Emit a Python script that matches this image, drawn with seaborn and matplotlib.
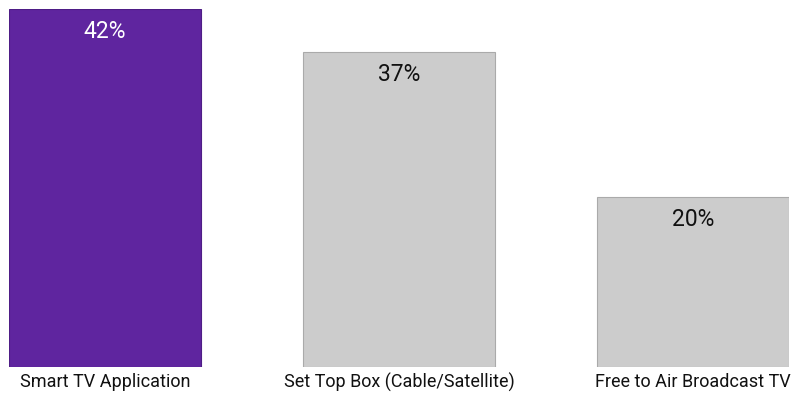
import matplotlib
matplotlib.use("Agg")
import matplotlib.pyplot as plt
import seaborn as sns
import pandas as pd

# Share of viewing by platform
categories = ["Smart TV Application", "Set Top Box (Cable/Satellite)", "Free to Air Broadcast TV"]
shares = [42, 37, 20]
bar_colors = ["#5f259f", "#cccccc", "#cccccc"]
edge_colors = ["#4e1d86", "#aaaaaa", "#aaaaaa"]
label_colors = ["white", "#111111", "#111111"]

df = pd.DataFrame({"platform": categories, "share": shares})

sns.set_theme(style="white")
plt.rcParams["font.family"] = ["Roboto", "DejaVu Sans"]

fig = plt.figure(figsize=(7.96, 3.93), dpi=100)
ax = fig.add_axes([9 / 796, 26 / 393, 780 / 796, 358 / 393])

sns.barplot(data=df, x="platform", y="share", hue="platform", palette=bar_colors,
            legend=False, width=0.652, ax=ax, saturation=1)

for patch, ec in zip(ax.patches, edge_colors):
    patch.set_edgecolor(ec)
    patch.set_linewidth(0.8)

for i, (v, c) in enumerate(zip(shares, label_colors)):
    ax.annotate(f"{v}%", xy=(i, v), xytext=(0, -16.5), textcoords="offset points",
                ha="center", va="center", fontsize=16.5, color=c)

ax.set_xlim(-0.326, 2.326)
ax.set_ylim(0, 42)
ax.set_xlabel("")
ax.set_ylabel("")
ax.set_yticks([])
ax.tick_params(axis="x", length=0, pad=4.5, labelsize=13, labelcolor="#111111")
for s in ax.spines.values():
    s.set_visible(False)

fig.savefig("out.png", dpi=100)
